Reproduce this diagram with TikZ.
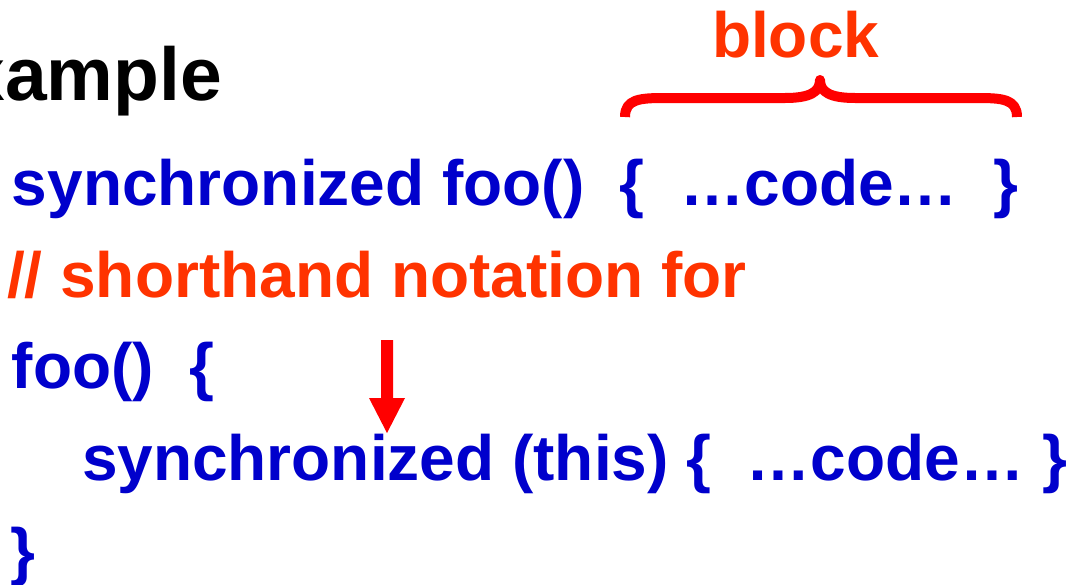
\documentclass[tikz,border=0pt]{standalone}
\usepackage{fontspec}
\setmainfont{Liberation Sans}
\definecolor{codeblue}{HTML}{0000CC}
\definecolor{notered}{HTML}{FF3300}
\definecolor{markred}{HTML}{FF0000}
\tikzset{
  line/.style={inner sep=0pt, outer sep=0pt, anchor=base west, font=\fontsize{64}{76}\selectfont\bfseries},
  codeline/.style={line, text=codeblue},
  noteline/.style={line, text=notered},
}
\begin{document}
\begin{tikzpicture}[x=1pt,y=-1pt]
\useasboundingbox (0,0) rectangle (1068,584);
\clip (0,0) rectangle (1068,584);
\node[inner sep=0pt, anchor=base east, font=\fontsize{75}{90}\selectfont\bfseries] (title) at (222,100) {Example};
\node[noteline] (blocklbl) at (712,57) {block};
\draw[markred, line width=10pt, line join=round]
  (625,117) .. controls (625,99) and (640,98) .. (665,98) -- (785,98)
  .. controls (810,98) and (820,92) .. (820,80)
  .. controls (820,92) and (830,98) .. (855,98) -- (977,98)
  .. controls (1002,98) and (1017,99) .. (1017,117);
\node[codeline] (l1) at (12,205) {synchronized foo()\ \ \{\ \ …code…\ \ \}};
\node[noteline] (l2) at (7,297) {// shorthand notation for};
\node[codeline] (l3) at (12,388) {foo()\ \ \{};
\node[codeline] (l4) at (82,480) {synchronized (this) \{\ \ …code… \}};
\node[codeline] (l5) at (10,573) {\}};
\fill[markred] (381,340) -- (393,340) -- (393,398) -- (405,398) -- (387,433) -- (369,398) -- (381,398) -- cycle;
\end{tikzpicture}
\end{document}
